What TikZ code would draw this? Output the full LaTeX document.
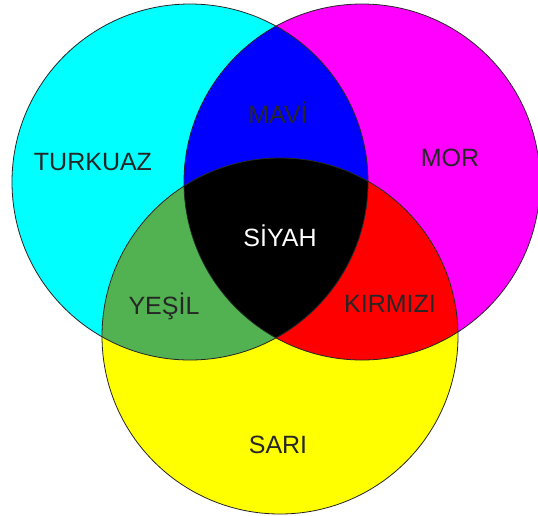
\documentclass[tikz,border=0pt]{standalone}
\usepackage{fontspec}
\setmainfont{Liberation Sans}
\usetikzlibrary{positioning}
\definecolor{turkuaz}{RGB}{0,255,255}
\definecolor{mor}{RGB}{255,0,255}
\definecolor{sari}{RGB}{255,255,0}
\definecolor{mavi}{RGB}{0,0,255}
\definecolor{kirmizi}{RGB}{255,0,0}
\definecolor{yesil}{RGB}{82,177,80}

\begin{document}
\begin{tikzpicture}
    [x=1pt, y=-1pt,
     ring/.style={draw=black!85, line width=.8pt},
     lbl/.style={anchor=base, font=\fontsize{25}{30}\selectfont, text=black!85},
    ]
    \useasboundingbox (0,0) rectangle (538,515);
    \coordinate (c-turkuaz) at (190,182);
    \coordinate (c-mor) at (362,182);
    \coordinate (c-sari) at (280,336);

    % base colours
    \fill [turkuaz] (c-turkuaz) circle (178pt);
    \fill [mor] (c-mor) circle (178pt);
    \fill [sari] (c-sari) circle (178pt);

    % overlaps
    \begin{scope}
        \clip (c-mor) circle (178pt);
        \fill [kirmizi] (c-sari) circle (178pt);
    \end{scope}
    \begin{scope}
        \clip (c-turkuaz) circle (178pt);
        \fill [mavi] (c-mor) circle (178pt);
        \fill [yesil] (c-sari) circle (178pt);
        \clip (c-mor) circle (178pt);
        \fill [black] (c-sari) circle (178pt);
    \end{scope}

    \draw [ring] (c-turkuaz) circle (178pt);
    \draw [ring] (c-mor) circle (178pt);
    \draw [ring] (c-sari) circle (178pt);

    \node (turkuaz) [lbl] at (93,170) {TURKUAZ};
    \node (mavi) [lbl] at (278,123) {MAVİ};
    \node (mor) [lbl] at (450,166) {MOR};
    \node (siyah) [lbl, text=white] at (280,246) {SİYAH};
    \node (yesil) [lbl] at (164,314) {YEŞİL};
    \node (kirmizi) [lbl] at (390,312) {KIRMIZI};
    \node (sari) [lbl] at (278,453) {SARI};

\end{tikzpicture}
\end{document}
